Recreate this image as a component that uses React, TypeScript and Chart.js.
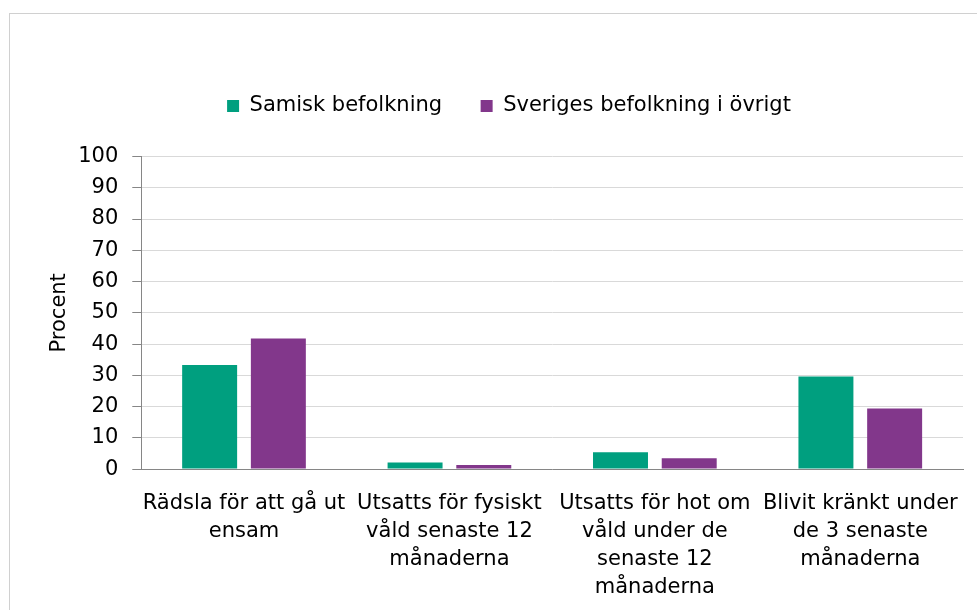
import React, { useEffect, useRef } from "react";
import { Chart, registerables } from "chart.js";

Chart.register(...registerables);

const categories: string[][] = [
  ["Rädsla för att gå ut", "ensam"],
  ["Utsatts för fysiskt", "våld senaste 12", "månaderna"],
  ["Utsatts för hot om", "våld under de", "senaste 12", "månaderna"],
  ["Blivit kränkt under", "de 3 senaste", "månaderna"],
];
const seriesNames = ["Samisk befolkning", "Sveriges befolkning i övrigt"];
const samiskValues = [33.3, 2.1, 5.4, 29.6];
const sverigeValues = [41.8, 1.3, 3.5, 19.4];
const yTicks = [0, 10, 20, 30, 40, 50, 60, 70, 80, 90, 100];

const GREEN = "#009F7F";
const PURPLE = "#82378B";
const FONT = "'DejaVu Sans', Verdana, sans-serif";

const legendShift = {
  id: "legendShift",
  afterLayout(chart: any) {
    const l = chart.legend;
    if (!l) return;
    const dx = 4;
    const dy = -30;
    l.left += dx;
    l.right += dx;
    l.top += dy;
    l.bottom += dy;
  },
};

export default function App() {
  const ref = useRef<HTMLCanvasElement | null>(null);

  useEffect(() => {
    if (!ref.current) return;
    const chart = new Chart(ref.current, {
      type: "bar",
      data: {
        labels: categories,
        datasets: [
          {
            label: seriesNames[0],
            data: samiskValues,
            backgroundColor: GREEN,
            borderWidth: 0,
          },
          {
            label: seriesNames[1],
            data: sverigeValues,
            backgroundColor: PURPLE,
            borderWidth: 0,
          },
        ],
      },
      options: {
        animation: false,
        responsive: false,
        devicePixelRatio: 1,
        font: { family: FONT },
        layout: { padding: { top: 73, left: 37, right: 14, bottom: 11 } },
        datasets: {
          bar: { categoryPercentage: 0.669, barPercentage: 0.8 },
        },
        plugins: {
          tooltip: { enabled: false },
          legend: {
            position: "top",
            align: "center",
            labels: {
              boxWidth: 12,
              boxHeight: 12,
              padding: 38.5,
              color: "#000",
              font: { family: FONT, size: 21 },
            },
          },
        },
        scales: {
          x: {
            grid: { display: false, drawTicks: false },
            border: { display: true, color: "#868686", width: 1 },
            afterFit: (scale: any) => {
              scale.height -= 23;
              scale.paddingLeft = 0;
              scale.paddingRight = 0;
            },
            ticks: {
              color: "#000",
              padding: 21,
              maxRotation: 0,
              minRotation: 0,
              autoSkip: false,
              font: { family: FONT, size: 21, lineHeight: 1.32 },
            },
          },
          y: {
            min: 0,
            max: 100,
            afterBuildTicks: (scale: any) => {
              scale.ticks = yTicks.map((v) => ({ value: v }));
            },
            afterFit: (scale: any) => {
              scale.width -= 16;
            },
            grid: {
              color: "#d9d9d9",
              lineWidth: 1,
              tickColor: "#868686",
              tickLength: 9,
            },
            border: { display: true, color: "#868686", width: 1 },
            ticks: {
              color: "#000",
              padding: 14,
              font: { family: FONT, size: 21 },
            },
            title: {
              display: true,
              text: "Procent",
              color: "#000",
              padding: { top: 0, bottom: 8 },
              font: { family: FONT, size: 21 },
            },
          },
        },
      },
      plugins: [legendShift],
    } as any);
    return () => chart.destroy();
  }, []);

  return (
    <div
      style={{
        position: "absolute",
        left: 9,
        top: 13,
        width: 967,
        height: 596,
        borderTop: "1px solid #d0d0d0",
        borderLeft: "1px solid #d0d0d0",
        overflow: "hidden",
      }}
    >
      <canvas ref={ref} width={967} height={596} style={{ display: "block" }} />
    </div>
  );
}
